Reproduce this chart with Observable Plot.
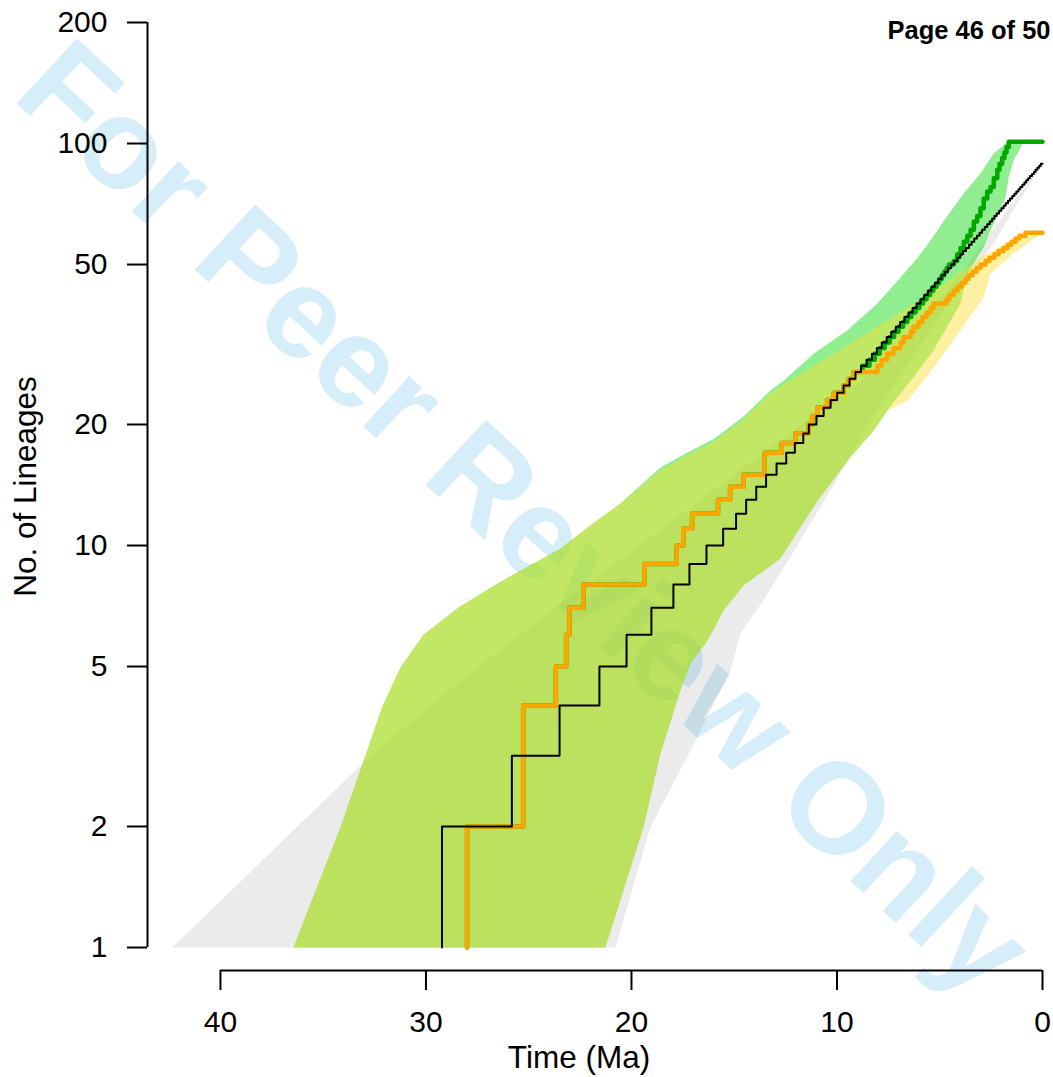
<!DOCTYPE html>
<html>
<head>
<meta charset="utf-8">
<script src="https://cdn.jsdelivr.net/npm/d3@7"></script>
<script src="https://cdn.jsdelivr.net/npm/@observablehq/plot@0.6"></script>
<style>
  html, body { margin: 0; padding: 0; background: white; overflow: hidden; }
</style>
</head>
<body>
<script>
// ---- axis ticks / labels ----
const xTicks = [40, 30, 20, 10, 0];
const yTicks = [1, 2, 5, 10, 20, 50, 100, 200];
const xLabel = "Time (Ma)";
const yLabel = "No. of Lineages";
const pageText = "Page 46 of 50";
const watermark = "For Peer Review Only";
const xDomain = [43.55, 0];
const yDomain = [0.8766, 200];

// ---- lineage-through-time curves (time in Ma, number of lineages) ----
const blackTime = [29.22, 29.22, 25.82, 23.50, 21.56, 20.24, 19.03, 17.96, 17.18, 16.35, 15.54, 14.91, 14.42, 13.93, 13.45, 12.94, 12.47, 12.05, 11.64, 11.37, 11.00, 10.65, 10.31, 9.99, 9.68, 9.39, 9.10, 8.83, 8.56, 8.30, 8.06, 7.82, 7.58, 7.36, 7.14, 6.93, 6.72, 6.52, 6.32, 6.13, 5.94, 5.76, 5.58, 5.41, 5.24, 5.07, 4.91, 4.75, 4.59, 4.44, 4.29, 4.14, 4.00, 3.86, 3.72, 3.58, 3.45, 3.32, 3.19, 3.06, 2.94, 2.81, 2.69, 2.57, 2.45, 2.34, 2.23, 2.11, 2.00, 1.89, 1.79, 1.68, 1.58, 1.47, 1.37, 1.27, 1.17, 1.08, 0.98, 0.88, 0.79, 0.70, 0.61, 0.51, 0.42, 0.34, 0.25, 0.16, 0.08, 0];
const blackN = [1, 2, 3, 4, 5, 6, 7, 8, 9, 10, 11, 12, 13, 14, 15, 16, 17, 18, 19, 20, 21, 22, 23, 24, 25, 26, 27, 28, 29, 30, 31, 32, 33, 34, 35, 36, 37, 38, 39, 40, 41, 42, 43, 44, 45, 46, 47, 48, 49, 50, 51, 52, 53, 54, 55, 56, 57, 58, 59, 60, 61, 62, 63, 64, 65, 66, 67, 68, 69, 70, 71, 72, 73, 74, 75, 76, 77, 78, 79, 80, 81, 82, 83, 84, 85, 86, 87, 88, 89, 89];

const orangeTime = [28.00, 28.00, 25.27, 25.27, 23.68, 23.18, 23.02, 22.34, 19.37, 17.80, 17.48, 17.05, 15.79, 15.20, 14.55, 13.53, 13.53, 12.69, 12.02, 11.38, 11.21, 10.96, 10.48, 10.17, 9.68, 9.44, 9.20, 8.03, 7.83, 7.56, 7.25, 6.91, 6.76, 6.42, 6.28, 6.03, 5.84, 5.64, 5.45, 5.30, 4.67, 4.53, 4.33, 4.14, 3.94, 3.75, 3.60, 3.41, 3.21, 3.02, 2.77, 2.58, 2.34, 2.14, 1.90, 1.70, 1.51, 1.31, 1.12, 0.83, 0];
const orangeN = [1, 2, 3, 4, 5, 6, 7, 8, 9, 10, 11, 12, 13, 14, 15, 16, 17, 18, 19, 20, 21, 22, 23, 24, 25, 26, 27, 28, 29, 30, 31, 32, 33, 34, 35, 36, 37, 38, 39, 40, 41, 42, 43, 44, 45, 46, 47, 48, 49, 50, 51, 52, 53, 54, 55, 56, 57, 58, 59, 60, 60];

const greenTime = [28.00, 28.00, 25.27, 25.27, 23.68, 23.18, 23.02, 22.34, 19.37, 17.80, 17.48, 17.05, 15.79, 15.20, 14.55, 13.53, 13.53, 12.69, 12.02, 11.38, 11.21, 10.96, 10.48, 10.17, 9.68, 9.44, 9.20, 8.76, 8.42, 8.16, 7.92, 7.68, 7.44, 7.22, 7.00, 6.79, 6.58, 6.38, 6.18, 5.99, 5.81, 5.64, 5.47, 5.31, 5.16, 5.03, 4.90, 4.78, 4.66, 4.55, 4.32, 4.15, 3.99, 3.83, 3.66, 3.50, 3.34, 3.18, 3.02, 2.86, 2.69, 2.53, 2.37, 2.20, 2.09, 1.96, 1.85, 1.75, 1.64, 0];
const greenN = [1, 2, 3, 4, 5, 6, 7, 8, 9, 10, 11, 12, 13, 14, 15, 16, 17, 18, 19, 20, 21, 22, 23, 24, 25, 26, 27, 28, 29, 30, 31, 32, 33, 34, 35, 36, 37, 38, 39, 40, 41, 42, 43, 44, 45, 46, 47, 48, 49, 50, 51, 53, 55, 57, 59, 61, 64, 66, 69, 73, 76, 78, 82, 86, 89, 92, 95, 98, 101, 101];

// ---- 95% envelopes (outline: upper edge then lower edge) ----
const greyBandTime = [42.34, 33.04, 28.32, 23.45, 16.64, 11.78, 8.86, 5.94, 3.50, 1.56, 0, 0.24, 1.22, 2.38, 4.48, 6.42, 8.37, 10.32, 11.78, 13.58, 14.70, 15.18, 17.13, 19.08, 20.78];
const greyBandN = [1, 2.885, 4.61, 7.17, 12.94, 19.9, 25.7, 35.3, 51.2, 70.1, 89, 84.7, 70.9, 56.4, 40.7, 28.9, 20.5, 13.7, 10.3, 7.30, 6.04, 4.89, 3.09, 1.99, 1];

const greenBandTime = [36.45, 34.16, 32.70, 32.12, 31.24, 30.12, 28.42, 26.52, 23.45, 22.14, 20.54, 18.59, 17.27, 15.96, 14.55, 13.24, 12.60, 11.14, 9.49, 8.03, 6.91, 6.08, 5.45, 4.62, 3.84, 3.02, 2.38, 1.70, 0.92, 1.41, 1.65, 1.80, 2.14, 2.53, 2.87, 3.65, 3.99, 5.30, 6.28, 6.91, 7.54, 8.22, 9.34, 10.95, 11.78, 12.75, 14.55, 15.52, 16.30, 17.13, 17.62, 18.59, 19.42, 21.27];
const greenBandN = [1, 1.99, 3.27, 3.98, 4.97, 6.00, 7.01, 8.05, 9.83, 11.09, 12.72, 15.63, 17.03, 18.46, 20.94, 24.3, 25.7, 30.0, 34.3, 40.0, 46.4, 52.0, 57.4, 66.2, 75.1, 84.2, 94.4, 101, 101, 90.7, 82.3, 73.4, 67.0, 60.8, 55.1, 47.5, 40.0, 30.6, 26.2, 23.9, 21.7, 19.3, 16.6, 12.9, 11.1, 9.28, 7.95, 6.89, 5.80, 5.09, 4.36, 3.04, 1.99, 1];

const yellowBandTime = [36.45, 34.16, 32.70, 32.12, 31.24, 30.12, 28.42, 26.52, 23.45, 22.14, 20.54, 18.59, 17.27, 15.96, 14.55, 13.24, 12.60, 9.54, 7.40, 5.45, 3.75, 2.87, 1.70, 0.44, 0, 1.41, 2.53, 2.87, 4.33, 5.30, 6.57, 7.54, 8.22, 9.34, 10.95, 11.78, 12.75, 14.55, 15.52, 16.30, 17.13, 17.62, 18.59, 19.42, 21.27];
const yellowBandN = [1, 1.99, 3.27, 3.98, 4.97, 6.00, 7.01, 8.05, 9.83, 11.09, 12.72, 15.4, 16.8, 18.2, 20.6, 23.9, 25.2, 31.4, 36.7, 42.4, 48.9, 52.6, 56.7, 59.4, 60, 53.3, 47.5, 41.4, 32.4, 27.7, 22.9, 21.7, 19.3, 16.6, 12.9, 11.1, 9.28, 7.95, 6.89, 5.80, 5.09, 4.36, 3.04, 1.99, 1];

const zip = (ts, ns) => ts.map((t, i) => ({t, n: ns[i]}));

const black = zip(blackTime, blackN);
const orange = zip(orangeTime, orangeN);
const green = zip(greenTime, greenN);
const greyBand = zip(greyBandTime, greyBandN);
const greenBand = zip(greenBandTime, greenBandN);
const yellowBand = zip(yellowBandTime, yellowBandN);

const font = "'Liberation Sans', Arial, Helvetica, sans-serif";

const chart = Plot.plot({
  width: 1053,
  height: 1077,
  marginLeft: 147,
  marginRight: 11,
  marginTop: 22,
  marginBottom: 107,
  style: {fontFamily: font, background: "white", color: "black", overflow: "hidden"},
  x: {domain: xDomain, label: null},
  y: {type: "log", domain: yDomain, label: null},
  marks: [
    Plot.text([watermark], {text: d => d, frameAnchor: "top-left", dx: 376, dy: 497, rotate: 43,
      fontSize: 129, fontWeight: "bold", fill: "#d6eefa", textAnchor: "middle", lineAnchor: "middle"}),
    Plot.line(greyBand, {x: "t", y: "n", fill: "black", fillOpacity: 0.08, stroke: "none"}),
    Plot.line(greenBand, {x: "t", y: "n", fill: "#08d908", fillOpacity: 0.45, stroke: "none"}),
    Plot.line(yellowBand, {x: "t", y: "n", fill: "#fadf35", fillOpacity: 0.47, stroke: "none"}),
    Plot.line(green, {x: "t", y: "n", curve: "step-after", stroke: "#00a800", strokeWidth: 4.5}),
    Plot.line(orange, {x: "t", y: "n", curve: "step-after", stroke: "#ffa500", strokeWidth: 4.5}),
    Plot.line(black, {x: "t", y: "n", curve: "step-after", stroke: "black", strokeWidth: 2}),
    Plot.ruleX([xDomain[0]], {y1: yTicks[0], y2: yTicks[yTicks.length - 1], stroke: "black", strokeWidth: 2}),
    Plot.ruleY([yDomain[0]], {x1: xTicks[0], x2: xTicks[xTicks.length - 1], stroke: "black", strokeWidth: 2}),
    Plot.axisY(yTicks, {anchor: "left", tickSize: 20, tickPadding: 20, fontSize: 30, strokeWidth: 2,
      tickFormat: d => String(d), label: null}),
    Plot.axisX(xTicks, {anchor: "bottom", tickSize: 20, tickPadding: 20, fontSize: 30, strokeWidth: 2,
      tickFormat: d => String(d), label: null}),
    Plot.text([yLabel], {text: d => d, frameAnchor: "left", dx: -122, dy: -10, rotate: -90,
      fontSize: 31.5, textAnchor: "middle", lineAnchor: "middle"}),
    Plot.text([xLabel], {text: d => d, frameAnchor: "bottom", dx: -16, dy: 87,
      fontSize: 31.5, textAnchor: "middle", lineAnchor: "middle"}),
    Plot.text([pageText], {text: d => d, frameAnchor: "top-left", dx: 740, dy: 8,
      fontSize: 25.5, fontWeight: "bold", textAnchor: "start", lineAnchor: "middle"})
  ]
});
document.body.appendChild(chart);
</script>
</body>
</html>
